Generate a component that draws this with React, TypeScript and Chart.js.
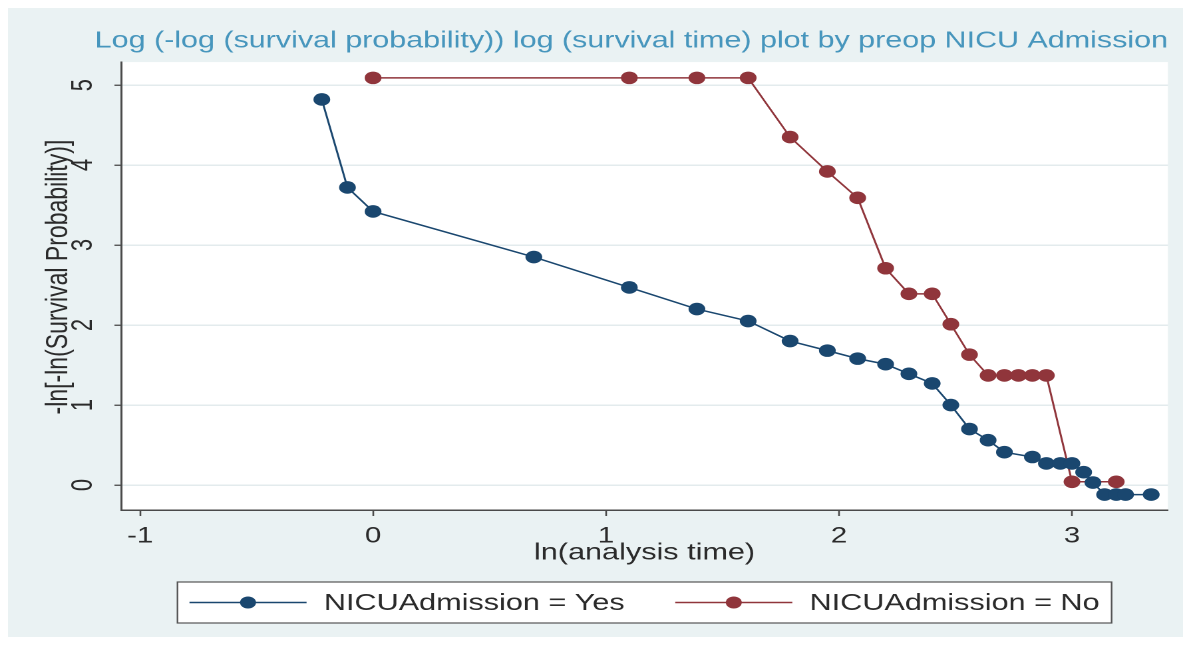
import React, { useEffect, useRef } from "react";
import { Chart, registerables } from "chart.js";

Chart.register(...registerables);

// ---------- data ----------
const TITLE = "Log (-log (survival probability)) log (survival time) plot by preop NICU Admission";
const X_TITLE = "ln(analysis time)";
const Y_TITLE = "-ln[-ln(Survival Probability)]";
const X_TICKS = [-1, 0, 1, 2, 3];
const Y_TICKS = [0, 1, 2, 3, 4, 5];

const YES_LABEL = "NICUAdmission = Yes";
const YES_X = [-0.22, -0.11, 0, 0.69, 1.1, 1.39, 1.61, 1.79, 1.95, 2.08, 2.2, 2.3, 2.4, 2.48, 2.56, 2.64, 2.71, 2.83, 2.89, 2.95, 3.0, 3.05, 3.09, 3.14, 3.19, 3.23, 3.34];
const YES_Y = [4.82, 3.72, 3.42, 2.85, 2.47, 2.2, 2.05, 1.8, 1.68, 1.58, 1.51, 1.39, 1.27, 1.0, 0.7, 0.56, 0.41, 0.35, 0.27, 0.27, 0.27, 0.16, 0.03, -0.12, -0.12, -0.12, -0.12];

const NO_LABEL = "NICUAdmission = No";
const NO_X = [0, 1.1, 1.39, 1.61, 1.79, 1.95, 2.08, 2.2, 2.3, 2.4, 2.48, 2.56, 2.64, 2.71, 2.77, 2.83, 2.89, 3.0, 3.19];
const NO_Y = [5.09, 5.09, 5.09, 5.09, 4.35, 3.92, 3.59, 2.71, 2.39, 2.39, 2.01, 1.63, 1.37, 1.37, 1.37, 1.37, 1.37, 0.04, 0.04];

// ---------- styles ----------
const BLUE = "#1a476f";
const RED = "#90353b";
const BG = "#eaf2f3";
const AXIS = "#4a4a4a";
const TEXT = "#2b2b2b";
const TITLE_COLOR = "#4796bd";
const FONT = '"Liberation Sans", Arial, sans-serif';

// logical canvas size (stretched horizontally by CSS, like the reference image)
const LOGICAL_W = 883;
const LOGICAL_H = 629;
const CSS_W = 1175;

const backgroundPlugin = {
  id: "bgPlugin",
  beforeDraw(chart: any) {
    const { ctx, width, height, chartArea } = chart;
    ctx.save();
    ctx.fillStyle = BG;
    ctx.fillRect(0, 0, width, height);
    ctx.fillStyle = "#ffffff";
    ctx.fillRect(chartArea.left, chartArea.top, chartArea.right - chartArea.left, chartArea.bottom - chartArea.top);
    ctx.restore();
  },
};

const extrasPlugin = {
  id: "extrasPlugin",
  afterDraw(chart: any) {
    const { ctx, chartArea } = chart;
    const y = chart.scales.y;
    const x = chart.scales.x;
    ctx.save();
    // rotated y tick labels
    ctx.fillStyle = TEXT;
    ctx.font = `22px ${FONT}`;
    ctx.textAlign = "center";
    ctx.textBaseline = "middle";
    y.ticks.forEach((t: any) => {
      const py = y.getPixelForValue(t.value);
      ctx.save();
      ctx.translate(57, py);
      ctx.rotate(-Math.PI / 2);
      ctx.fillText(String(t.value), 0, 0);
      ctx.restore();
    });
    // y axis title
    ctx.save();
    ctx.font = `23px ${FONT}`;
    ctx.translate(38, (chartArea.top + chartArea.bottom) / 2 - 9);
    ctx.rotate(-Math.PI / 2);
    ctx.fillText(Y_TITLE, 0, 0);
    ctx.restore();

    // legend box
    const ds = chart.data.datasets;
    ctx.font = `23px ${FONT}`;
    const lineLen = 88;
    const gap = 13;
    const itemGap = 38;
    const pad = 9;
    const widths = ds.map((d: any) => ctx.measureText(d.label).width);
    let total = pad * 2 + itemGap * (ds.length - 1);
    widths.forEach((w: number) => (total += lineLen + gap + w));
    const cx = (chartArea.left + chartArea.right) / 2;
    const left = cx - total / 2;
    const top = x.bottom + 12;
    const h = 41;
    ctx.fillStyle = "#ffffff";
    ctx.fillRect(left, top, total, h);
    ctx.strokeStyle = "#555555";
    ctx.lineWidth = 1.2;
    ctx.strokeRect(left, top, total, h);
    let cur = left + pad;
    const cy = top + h / 2;
    ds.forEach((d: any, i: number) => {
      ctx.strokeStyle = d.borderColor;
      ctx.lineWidth = 1.5;
      ctx.beginPath();
      ctx.moveTo(cur, cy);
      ctx.lineTo(cur + lineLen, cy);
      ctx.stroke();
      ctx.fillStyle = d.pointBackgroundColor;
      ctx.beginPath();
      ctx.arc(cur + lineLen / 2, cy, 6, 0, Math.PI * 2);
      ctx.fill();
      ctx.fillStyle = TEXT;
      ctx.textAlign = "left";
      ctx.textBaseline = "middle";
      ctx.fillText(d.label, cur + lineLen + gap, cy + 1);
      cur += lineLen + gap + widths[i] + itemGap;
    });
    ctx.restore();
  },
};

export default function App() {
  const ref = useRef<HTMLCanvasElement | null>(null);

  useEffect(() => {
    if (!ref.current) return;
    const yes = YES_X.map((v, i) => ({ x: v, y: YES_Y[i] }));
    const no = NO_X.map((v, i) => ({ x: v, y: NO_Y[i] }));
    const chart = new Chart(ref.current, {
      type: "scatter",
      data: {
        datasets: [
          {
            label: YES_LABEL,
            data: yes,
            showLine: true,
            borderColor: BLUE,
            backgroundColor: BLUE,
            pointBackgroundColor: BLUE,
            pointBorderColor: BLUE,
            borderWidth: 1.5,
            pointRadius: 6.3,
            pointBorderWidth: 0,
            tension: 0,
          },
          {
            label: NO_LABEL,
            data: no,
            showLine: true,
            borderColor: RED,
            backgroundColor: RED,
            pointBackgroundColor: RED,
            pointBorderColor: RED,
            borderWidth: 1.5,
            pointRadius: 6.3,
            pointBorderWidth: 0,
            tension: 0,
          },
        ],
      },
      options: {
        animation: false,
        responsive: false,
        devicePixelRatio: 2,
        events: [],
        layout: { padding: { top: 0, left: 0, right: 11.3, bottom: 67 } },
        plugins: {
          legend: { display: false },
          tooltip: { enabled: false },
          title: {
            display: true,
            text: TITLE,
            align: "end",
            fullSize: true,
            color: TITLE_COLOR,
            font: { family: FONT, size: 22.9, weight: "normal" },
            padding: { top: 19.4, bottom: 7.2 },
          },
        },
        scales: {
          x: {
            type: "linear",
            min: -1.0815,
            max: 3.412,
            afterBuildTicks: (s: any) => {
              s.ticks = X_TICKS.map((v) => ({ value: v }));
            },
            afterFit: (s: any) => {
              s.height = 60;
            },
            grid: {
              drawOnChartArea: false,
              drawTicks: true,
              tickLength: 6,
              tickColor: AXIS,
              tickWidth: 1.3,
            },
            border: { display: true, color: AXIS, width: 1.5 },
            ticks: {
              autoSkip: false,
              maxRotation: 0,
              padding: 7,
              color: TEXT,
              font: { family: FONT, size: 22 },
            },
            title: {
              display: true,
              text: X_TITLE,
              color: TEXT,
              font: { family: FONT, size: 23 },
              padding: { top: 0, bottom: 3 },
            },
          },
          y: {
            type: "linear",
            min: -0.3125,
            max: 5.2875,
            afterBuildTicks: (s: any) => {
              s.ticks = Y_TICKS.map((v) => ({ value: v }));
            },
            afterFit: (s: any) => {
              s.width = 85;
            },
            grid: {
              color: "#e3ebed",
              lineWidth: 1.5,
              drawTicks: true,
              tickLength: 5,
              tickColor: AXIS,
              tickWidth: 1.3,
            },
            border: { display: true, color: AXIS, width: 1.5 },
            ticks: { display: false },
          },
        },
      },
      plugins: [backgroundPlugin, extrasPlugin],
    } as any);
    return () => chart.destroy();
  }, []);

  return (
    <div style={{ width: CSS_W, height: LOGICAL_H }}>
      <canvas
        ref={ref}
        width={LOGICAL_W}
        height={LOGICAL_H}
        style={{ display: "block", width: `${CSS_W}px`, height: `${LOGICAL_H}px` }}
      />
    </div>
  );
}
